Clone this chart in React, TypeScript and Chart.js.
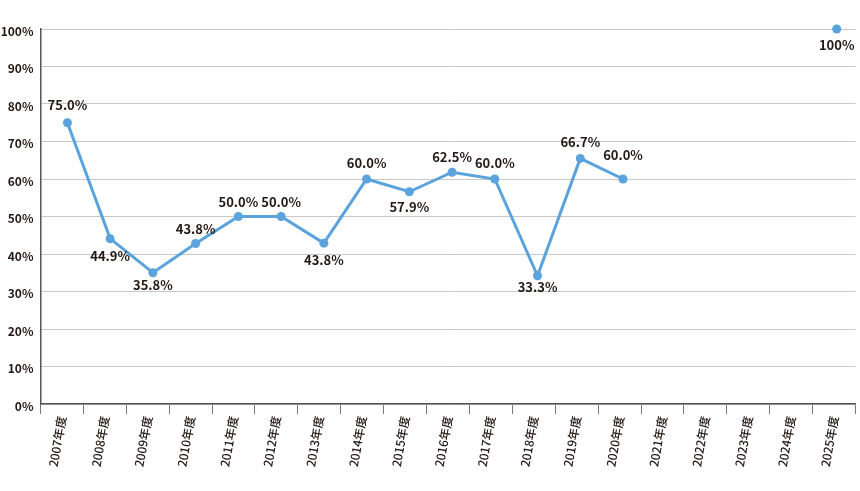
import React, { useEffect, useRef } from "react";
import { Chart, registerables } from "chart.js";

Chart.register(...registerables);

const categories = [
  "2007年度", "2008年度", "2009年度", "2010年度", "2011年度", "2012年度", "2013年度",
  "2014年度", "2015年度", "2016年度", "2017年度", "2018年度", "2019年度", "2020年度",
  "2021年度", "2022年度", "2023年度", "2024年度", "2025年度",
];

// plotted positions (%)
const rateValues: (number | null)[] = [
  75.0, 44.1, 35.0, 42.8, 50.0, 50.0, 42.9, 60.0, 56.6, 61.8, 60.0, 34.2, 65.5, 60.0,
  null, null, null, null, 100,
];

// printed value labels
const rateLabels: (string | null)[] = [
  "75.0%", "44.9%", "35.8%", "43.8%", "50.0%", "50.0%", "43.8%", "60.0%", "57.9%",
  "62.5%", "60.0%", "33.3%", "66.7%", "60.0%", null, null, null, null, "100%",
];

const yTicks = [0, 10, 20, 30, 40, 50, 60, 70, 80, 90, 100];

// label styling (side of point and gap in px)
const labelSide = [
  "above", "below", "below", "above", "above", "above", "below", "above", "below",
  "above", "above", "below", "above", "above", "above", "above", "above", "above", "below",
];
const labelGap = [18, 17, 12, 14, 14, 14, 17, 16, 15, 15, 16, 11, 16, 24, 0, 0, 0, 0, 16];

const FONT = "'Noto Sans CJK JP', 'Noto Sans', sans-serif";
const BLUE = "#5aa3dc";

const labelPlugin = {
  id: "pointLabels",
  afterDatasetsDraw(chart: any) {
    const ctx = chart.ctx;
    const meta = chart.getDatasetMeta(0);
    ctx.save();
    ctx.font = `600 13px ${FONT}`;
    ctx.fillStyle = "#231815";
    ctx.textAlign = "center";
    ctx.textBaseline = "middle";
    meta.data.forEach((pt: any, i: number) => {
      const txt = rateLabels[i];
      if (txt == null || rateValues[i] == null) return;
      const gap = labelGap[i];
      const y = labelSide[i] === "above" ? pt.y - gap : pt.y + gap;
      ctx.fillText(txt, pt.x, y);
    });
    ctx.restore();
  },
};

export default function App() {
  const ref = useRef<HTMLCanvasElement | null>(null);

  useEffect(() => {
    if (!ref.current) return;
    const chart = new Chart(ref.current, {
      type: "line",
      data: {
        labels: categories,
        datasets: [
          {
            data: rateValues.map((v, i) => ({ x: i, y: v })) as any,
            xAxisID: "xp",
            borderColor: BLUE,
            backgroundColor: BLUE,
            borderWidth: 3,
            pointRadius: 4.5,
            pointHoverRadius: 4.5,
            pointBackgroundColor: BLUE,
            pointBorderWidth: 0,
            tension: 0,
            spanGaps: false,
            clip: false as any,
          },
        ],
      },
      options: {
        animation: false,
        responsive: false,
        maintainAspectRatio: false,
        parsing: { xAxisKey: "x", yAxisKey: "y" } as any,
        layout: { padding: { top: 29, right: 1, left: 0, bottom: 0 } },
        plugins: {
          legend: { display: false },
          tooltip: { enabled: false },
        },
        scales: {
          x: {
            type: "category",
            offset: true,
            grid: {
              offset: true,
              drawOnChartArea: false,
              drawTicks: true,
              tickLength: 10,
              color: "#777",
              lineWidth: 1,
            },
            border: { display: true, color: "#555", width: 1.5 },
            ticks: {
              autoSkip: false,
              minRotation: 80,
              maxRotation: 80,
              color: "#231815",
              font: { family: FONT, size: 12, weight: 500 },
              padding: 1,
            },
            afterFit(scale: any) {
              scale.height = 87;
            },
          },
          xp: {
            type: "linear",
            display: false,
            min: -0.63,
            max: 18.44,
          },
          y: {
            min: 0,
            max: 100,
            afterBuildTicks(scale: any) {
              scale.ticks = yTicks.map((v) => ({ value: v }));
            },
            grid: {
              color: "#c8c8c8",
              lineWidth: 1,
              drawTicks: false,
            },
            border: { display: true, color: "#555", width: 1.5 },
            ticks: {
              color: "#231815",
              font: { family: FONT, size: 12, weight: 600 },
              padding: 7,
              labelOffset: 2,
              callback: (v: any) => `${v}%`,
            },
            afterFit(scale: any) {
              scale.width = 40.5;
            },
          },
        },
      },
      plugins: [labelPlugin],
    });
    return () => chart.destroy();
  }, []);

  return (
    <div style={{ position: "fixed", left: 0, top: 0, width: 860, height: 491, background: "#fff" }}>
      <canvas ref={ref} width={860} height={491} style={{ width: 860, height: 491 }} />
    </div>
  );
}
